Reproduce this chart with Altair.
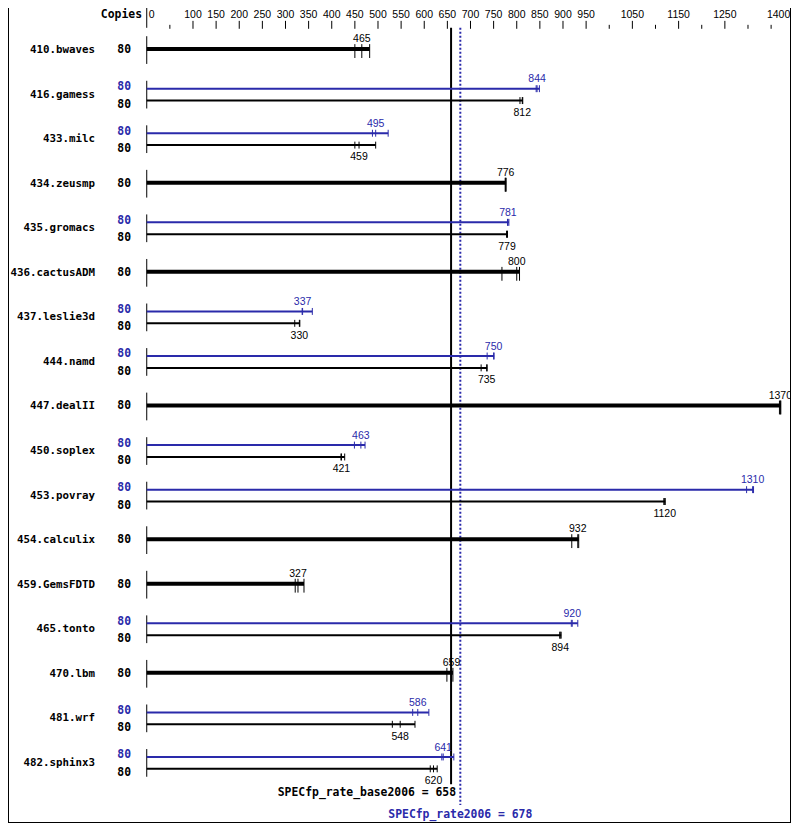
import altair as alt
import pandas as pd

# ---------------- data ----------------
benchmarks = ["410.bwaves", "416.gamess", "433.milc", "434.zeusmp", "435.gromacs",
              "436.cactusADM", "437.leslie3d", "444.namd", "447.dealII", "450.soplex",
              "453.povray", "454.calculix", "459.GemsFDTD", "465.tonto", "470.lbm",
              "481.wrf", "482.sphinx3"]
copies = [80, 80, 80, 80, 80, 80, 80, 80, 80, 80, 80, 80, 80, 80, 80, 80, 80]
base_runs = [[450, 465, 482], [807, 812, 813], [450, 459, 495], [775, 776, 777],
             [778, 779, 780], [768, 800, 806], [320, 330, 331], [723, 735, 736],
             [1368, 1370, 1371], [420, 421, 428], [1118, 1120, 1121], [919, 932, 934],
             [321, 327, 340], [893, 894, 896], [649, 659, 662], [531, 548, 580],
             [613, 620, 628]]
peak_runs = [None, [842, 844, 849], [488, 495, 522], None, [780, 781, 783], None,
             [336, 337, 358], [736, 750, 751], None, [449, 463, 472],
             [1297, 1310, 1312], None, None, [918, 920, 932], None,
             [575, 586, 610], [638, 641, 664]]
base_scores = [465, 812, 459, 776, 779, 800, 330, 735, 1370, 421, 1120, 932, 327,
               894, 659, 548, 620]
peak_scores = [None, 844, 495, None, 781, None, 337, 750, None, 463, 1310, None,
               None, 920, None, 586, 641]
overall_base = 658
overall_peak = 678
axis_labeled = [0, 100, 150, 200, 250, 300, 350, 400, 450, 500, 550, 600, 650, 700,
                750, 800, 850, 900, 950, 1050, 1150, 1250, 1400]
axis_minor = [50, 1000, 1100, 1200, 1300, 1350]

# ---------------- layout ----------------
BLUE = "#2a2aaa"
W, H = 783, 815
ROW0, STEP = 44, 45
MONO = "DejaVu Sans Mono"
SANS = "Liberation Sans"

xs = alt.Scale(domain=[-300, 1393], nice=False, zero=False)
ys = alt.Scale(domain=[2, 825.2], range=[0, H], nice=False, zero=False)
cs = alt.Scale(domain=["base", "peak"], range=["#000000", BLUE])

rows, bars, ticks, vals, cps = [], [], [], [], []
for i, name in enumerate(benchmarks):
    yc = ROW0 + STEP * i
    rows.append(dict(name=name, y=yc + 3.5, y1=yc - 13.5, y2=yc + 14.5, x0=0))
    if peak_runs[i] is None:
        bars.append(dict(k="base", y=yc - 0.5, x0=0, x=max(base_runs[i]), w=4))
        for r in base_runs[i]:
            ticks.append(dict(k="base", x=r, y1=yc - 5.5, y2=yc + 8.5))
        vals.append(dict(k="base", x=base_scores[i], y=yc - 7.5, t=str(base_scores[i])))
        cps.append(dict(k="base", y=yc + 3.5, t=str(copies[i])))
    else:
        bars.append(dict(k="peak", y=yc - 5.5, x0=0, x=max(peak_runs[i]), w=2))
        bars.append(dict(k="base", y=yc + 6.5, x0=0, x=max(base_runs[i]), w=2))
        for r in peak_runs[i]:
            ticks.append(dict(k="peak", x=r, y1=yc - 9, y2=yc - 2))
        for r in base_runs[i]:
            ticks.append(dict(k="base", x=r, y1=yc + 3, y2=yc + 10))
        vals.append(dict(k="peak", x=peak_scores[i], y=yc - 12, t=str(peak_scores[i])))
        vals.append(dict(k="base", x=base_scores[i], y=yc + 22, t=str(base_scores[i])))
        cps.append(dict(k="peak", y=yc - 4, t=str(copies[i])))
        cps.append(dict(k="base", y=yc + 13.7, t=str(copies[i])))

rows_df = pd.DataFrame(rows)
bars_df = pd.DataFrame(bars)
ticks_df = pd.DataFrame(ticks)
vals_df = pd.DataFrame(vals)
cps_df = pd.DataFrame(cps)

X = lambda f: alt.X(f, type="quantitative", scale=xs, axis=None)
Y = lambda f: alt.Y(f, type="quantitative", scale=ys, axis=None)
C = alt.Color("k:N", scale=cs, legend=None)

group_lines = alt.Chart(rows_df).mark_rule(color="black", strokeWidth=1).encode(
    x=X("x0"), y=Y("y1"), y2="y2")
bar_layer = alt.Chart(bars_df).mark_rule().encode(
    x=X("x0"), x2="x", y=Y("y"), strokeWidth=alt.StrokeWidth("w:Q", scale=None), color=C)
tick_layer = alt.Chart(ticks_df).mark_rule(strokeWidth=1).encode(
    x=X("x"), y=Y("y1"), y2="y2", color=C)
val_layer = alt.Chart(vals_df).mark_text(font=SANS, fontSize=10.5, align="center",
                                         baseline="alphabetic").encode(
    x=X("x"), y=Y("y"), text="t:N", color=C)
name_layer = alt.Chart(rows_df).mark_text(font=MONO, fontWeight="bold", fontSize=10.8,
                                          align="right", baseline="alphabetic",
                                          color="black").encode(
    x=alt.value(87), y=Y("y"), text="name:N")
copies_layer = alt.Chart(cps_df).mark_text(font=MONO, fontWeight="bold", fontSize=11.4,
                                           align="right", baseline="alphabetic").encode(
    x=alt.value(123), y=Y("y"), text="t:N", color=C)

# reference lines
ref_base = alt.Chart(pd.DataFrame([dict(x=overall_base, y1=22, y2=786)])).mark_rule(
    color="black", strokeWidth=2).encode(x=X("x"), y=Y("y1"), y2="y2")
ref_peak = alt.Chart(pd.DataFrame([dict(x=overall_peak, y1=22, y2=807)])).mark_rule(
    color=BLUE, strokeWidth=2, strokeDash=[2, 2]).encode(x=X("x"), y=Y("y1"), y2="y2")
ref_text_base = alt.Chart(pd.DataFrame([dict(
    x=overall_base, y=798, t=f"SPECfp_rate_base2006 = {overall_base}")])).mark_text(
    font=MONO, fontWeight="bold", fontSize=11.4, align="right", baseline="alphabetic",
    dx=5, color="black").encode(x=X("x"), y=Y("y"), text="t:N")
ref_text_peak = alt.Chart(pd.DataFrame([dict(
    x=overall_peak, y=820, t=f"SPECfp_rate2006 = {overall_peak}")])).mark_text(
    font=MONO, fontWeight="bold", fontSize=11.4, align="center", baseline="alphabetic",
    color=BLUE).encode(x=X("x"), y=Y("y"), text="t:N")

# top scale
major_df = pd.DataFrame([dict(x=v, y1=15, y2=23) for v in axis_labeled if v != 0])
minor_df = pd.DataFrame([dict(x=v, y1=19, y2=23) for v in axis_minor])
zero_df = pd.DataFrame([dict(x=0, y1=2, y2=22)])
tick_major = alt.Chart(major_df).mark_rule(color="black", strokeWidth=1).encode(
    x=X("x"), y=Y("y1"), y2="y2")
tick_minor = alt.Chart(minor_df).mark_rule(color="black", strokeWidth=1).encode(
    x=X("x"), y=Y("y1"), y2="y2")
tick_zero = alt.Chart(zero_df).mark_rule(color="black", strokeWidth=1).encode(
    x=X("x"), y=Y("y1"), y2="y2")

mid_labels = [v for v in axis_labeled if v not in (0, axis_labeled[-1])]
lab_mid = alt.Chart(pd.DataFrame([dict(x=v, y=12, t=str(v)) for v in mid_labels])).mark_text(
    font=SANS, fontSize=10.5, align="center", baseline="alphabetic", color="black").encode(
    x=X("x"), y=Y("y"), text="t:N")
lab_first = alt.Chart(pd.DataFrame([dict(x=axis_labeled[0], y=12, t=str(axis_labeled[0]))])).mark_text(
    font=SANS, fontSize=10.5, align="left", baseline="alphabetic", dx=2, color="black").encode(
    x=X("x"), y=Y("y"), text="t:N")
lab_last = alt.Chart(pd.DataFrame([dict(x=axis_labeled[-1], y=12, t=str(axis_labeled[-1]))])).mark_text(
    font=SANS, fontSize=10.5, align="right", baseline="alphabetic", dx=-4, color="black").encode(
    x=X("x"), y=Y("y"), text="t:N")
copies_head = alt.Chart(pd.DataFrame([dict(y=12, t="Copies")])).mark_text(
    font=MONO, fontWeight="bold", fontSize=11.4, align="right", baseline="alphabetic",
    color="black").encode(x=alt.value(134), y=Y("y"), text="t:N")

# frame
frame_df = pd.DataFrame([dict(a=1)])
frame_left = alt.Chart(frame_df).mark_rule(color="black", strokeWidth=1).encode(
    x=alt.value(0.5), y=alt.value(0), y2=alt.value(H))
frame_right = alt.Chart(frame_df).mark_rule(color="black", strokeWidth=1).encode(
    x=alt.value(W - 0.5), y=alt.value(0), y2=alt.value(H))
frame_bottom = alt.Chart(frame_df).mark_rule(color="black", strokeWidth=1).encode(
    x=alt.value(0), x2=alt.value(W), y=alt.value(H - 0.5))

chart = alt.layer(
    ref_peak, ref_base, group_lines, bar_layer, tick_layer, val_layer, name_layer,
    copies_layer, ref_text_base, ref_text_peak, tick_major, tick_minor, tick_zero,
    lab_mid, lab_first, lab_last, copies_head, frame_left, frame_right, frame_bottom
).properties(
    width=W, height=H, padding=0, autosize=alt.AutoSizeParams(type="none"),
    background="white"
).configure_view(stroke=None)

chart.save("out.html", embed_options={"renderer": "svg", "actions": False})
